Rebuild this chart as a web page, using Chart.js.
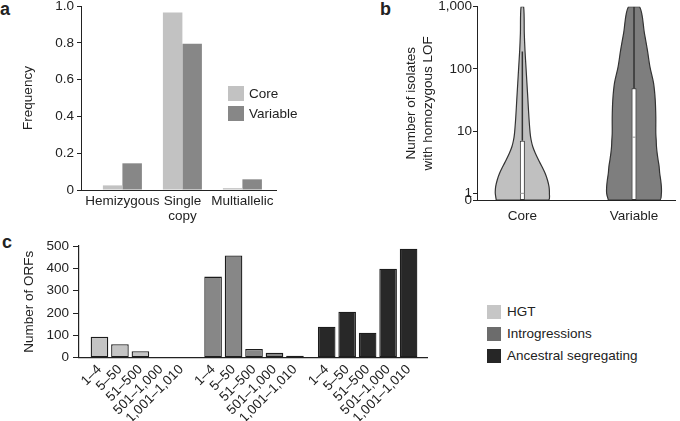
<!DOCTYPE html>
<html>
<head>
<meta charset="utf-8">
<script src="https://cdn.jsdelivr.net/npm/chart.js@4.4.1/dist/chart.umd.min.js"></script>
<style>
  body {
    margin: 0;
    width: 680px;
    height: 421px;
    overflow: hidden;
    position: relative;
    background: #fff;
    color: #222;
    font-family: "Liberation Sans", Arial, sans-serif;
  }
  canvas { position: absolute; }
  .letter { position: absolute; font-weight: bold; font-size: 18px; line-height: 18px; }
  .key { position: absolute; }
  .keytext { position: absolute; font-size: 13.5px; line-height: 16px; white-space: nowrap; }
</style>
</head>
<body>
<div class="letter" style="left:0px;top:0px">a</div>
<div class="letter" style="left:380px;top:0px">b</div>
<div class="letter" style="left:2px;top:233px">c</div>

<canvas id="chartA" width="340" height="240" style="left:0px;top:-10px"></canvas>
<canvas id="chartB" width="290" height="240" style="left:390px;top:-10px"></canvas>
<canvas id="chartC" width="470" height="191" style="left:0px;top:230px"></canvas>

<div id="legendA"></div>
<div id="legendC"></div>

<script>
// panel a
const freqCategories = ["Hemizygous", ["Single", "copy"], "Multiallelic"];
const freqSeries = ["Core", "Variable"];
const coreFreq = [0.025, 0.965, 0.01];
const variableFreq = [0.145, 0.795, 0.058];

// panel b
const violinGroups = ["Core", "Variable"];
const violinLevels = [0, 1, 1.28, 1.64, 2.1, 2.7, 3.4, 4.4, 5.6, 7.2, 9.2, 17, 32, 59, 108, 200, 370, 1000];
const coreDensity = [26.7, 27.7, 27.3, 25.7, 23.3, 20, 16.7, 13.3, 10.7, 9, 8, 6.7, 5.7, 4.7, 3.7, 2.7, 2, 1.3];
const variableDensity = [26.3, 28, 28, 27.3, 26.3, 25.7, 24.7, 23.7, 23, 22.7, 22.3, 22.3, 21.7, 20, 16.3, 13.7, 10.7, 5.7];
const boxLow = [0, 0];
const boxHigh = [7, 49];
const medians = [1, 8];
const whiskerTop = [190, 1000];
const violinTicks = [0, 1, 10, 100, 1000];
const violinTickLabels = ["0", "1", "10", "100", "1,000"];

// panel c
const binLabels = ["1–4", "5–50", "51–500", "501–1,000", "1,001–1,010"];
const orfGroups = ["HGT", "Introgressions", "Ancestral segregating"];
const hgtCounts = [94, 60, 29, 2, 2];
const introgressionCounts = [363, 458, 39, 22, 9];
const ancestralCounts = [139, 206, 112, 398, 488];

const fontFamily = "'Liberation Sans', Arial, sans-serif";
const ink = "#222";

Chart.defaults.font.family = fontFamily;
Chart.defaults.font.size = 13.5;
Chart.defaults.color = ink;
Chart.defaults.animation = false;

const noPlugins = {
  legend: { display: false },
  tooltip: { enabled: false },
};

function addLegend(id, labels, colors, left, top, step, w, h, gap) {
  const holder = document.getElementById(id);

  labels.forEach((label, i) => {
    const y = top + i * step;
    holder.innerHTML +=
      `<div class="key" style="left:${left}px;top:${y}px;width:${w}px;height:${h}px;background:${colors[i]}"></div>` +
      `<div class="keytext" style="left:${left + w + gap}px;top:${y + h / 2 - 8}px">${label}</div>`;
  });
}

// ---------- a ----------
const freqColors = ["#c2c2c2", "#878787"];

new Chart(document.getElementById("chartA"), {
  type: "bar",
  data: {
    datasets: [coreFreq, variableFreq].map((values, s) => ({
      label: freqSeries[s],
      data: values.map((v, i) => ({ x: i, y: v })),
      backgroundColor: freqColors[s],
      categoryPercentage: 0.65,
      barPercentage: 1,
    })),
  },
  options: {
    responsive: false,
    layout: { padding: { top: 16, left: 0, right: 64, bottom: 0 } },
    plugins: noPlugins,
    scales: {
      x: {
        type: "linear",
        offset: false,
        min: -0.69,
        max: 2.56,
        afterBuildTicks: (scale) => {
          scale.ticks = freqCategories.map((c, i) => ({ value: i }));
        },
        ticks: {
          autoSkip: false,
          maxRotation: 0,
          padding: 4,
          font: { lineHeight: 1.12 },
          callback: (v, i) => freqCategories[i],
        },
        grid: { display: false, drawTicks: false },
        border: { color: ink, width: 1 },
        afterFit: (scale) => {
          scale.height = 40;
        },
      },
      y: {
        min: 0,
        max: 1,
        ticks: {
          stepSize: 0.2,
          padding: 3,
          callback: (v) => (v === 0 ? "0" : v.toFixed(1)),
        },
        grid: { drawOnChartArea: false, tickLength: 4, color: ink },
        border: { color: ink, width: 1 },
        title: {
          display: true,
          text: "Frequency",
          padding: { top: 20, bottom: 0 },
        },
        afterFit: (scale) => {
          scale.width = 81;
        },
      },
    },
  },
});

addLegend("legendA", freqSeries, freqColors, 228, 86, 20, 16, 15, 5);

// ---------- b ----------
const zeroLevel = -0.107;
const maxHalfWidth = 0.245;

function logPos(v) {
  return v > 0 ? Math.log10(v) : zeroLevel;
}

function violinOutline(center, density) {
  const peak = Math.max(...coreDensity, ...variableDensity);

  const left = violinLevels.map((v, i) => ({
    x: center - (density[i] / peak) * maxHalfWidth,
    y: logPos(v),
  }));

  const right = violinLevels
    .map((v, i) => ({
      x: center + (density[i] / peak) * maxHalfWidth,
      y: logPos(v),
    }))
    .reverse();

  return left.concat(right, [left[0]]);
}

const violinColors = ["#c0c0c0", "#7e7e7e"];

new Chart(document.getElementById("chartB"), {
  type: "line",
  data: {
    datasets: [
      ...[coreDensity, variableDensity].map((density, g) => ({
        label: violinGroups[g],
        data: violinOutline(g, density),
        backgroundColor: violinColors[g],
        borderColor: "#333",
        borderWidth: 1.2,
        fill: "shape",
        pointRadius: 0,
        tension: 0.3,
        order: 4,
      })),
      {
        type: "bar",
        data: violinGroups.map((g, i) => ({
          x: i,
          y: [logPos(boxHigh[i]), logPos(whiskerTop[i])],
        })),
        backgroundColor: "#333",
        maxBarThickness: 1.5,
        grouped: false,
        order: 3,
      },
      {
        type: "bar",
        data: violinGroups.map((g, i) => ({
          x: i,
          y: [logPos(boxLow[i]), logPos(boxHigh[i])],
        })),
        backgroundColor: "#fff",
        borderColor: "#333",
        borderWidth: 1,
        borderSkipped: false,
        maxBarThickness: 5,
        grouped: false,
        order: 2,
      },
      {
        data: violinGroups.map((g, i) => ({ x: i, y: logPos(medians[i]) })),
        showLine: false,
        pointStyle: "line",
        pointRadius: 2,
        borderColor: "#999",
        borderWidth: 1,
        order: 1,
      },
    ],
  },
  options: {
    responsive: false,
    layout: { padding: { top: 16.7, left: 0, right: 0, bottom: 0 } },
    plugins: noPlugins,
    scales: {
      x: {
        type: "linear",
        offset: false,
        min: -0.406,
        max: 1.367,
        afterBuildTicks: (scale) => {
          scale.ticks = violinGroups.map((g, i) => ({ value: i }));
        },
        ticks: {
          autoSkip: false,
          maxRotation: 0,
          padding: 8,
          callback: (v, i) => violinGroups[i],
        },
        grid: { display: false, drawTicks: false },
        border: { color: ink, width: 1 },
        afterFit: (scale) => {
          scale.height = 30;
        },
      },
      y: {
        type: "linear",
        min: zeroLevel,
        max: 3,
        afterBuildTicks: (scale) => {
          scale.ticks = violinTicks.map((v) => ({ value: logPos(v) }));
        },
        ticks: {
          autoSkip: false,
          padding: 1,
          callback: (v, i) => violinTickLabels[i],
        },
        grid: { drawOnChartArea: false, tickLength: 4, color: ink },
        border: { color: ink, width: 1 },
        title: {
          display: true,
          text: ["Number of isolates", "with homozygous LOF"],
          font: { lineHeight: 1.25 },
          padding: { top: 12.5, bottom: 0 },
        },
        afterFit: (scale) => {
          scale.width = 87;
        },
      },
    },
  },
});

// ---------- c ----------
const orfColors = ["#c4c4c4", "#878787", "#282828"];
const orfKeyColors = ["#c6c6c6", "#6c6c6c", "#262626"];
const groupStride = 5.55;

new Chart(document.getElementById("chartC"), {
  type: "bar",
  data: {
    datasets: [hgtCounts, introgressionCounts, ancestralCounts].map((counts, g) => ({
      label: orfGroups[g],
      data: counts.map((c, i) => ({ x: g * groupStride + i, y: c })),
      backgroundColor: orfColors[g],
      borderColor: "#1c1c1c",
      borderWidth: 1.3,
      borderSkipped: false,
      grouped: false,
      categoryPercentage: 1,
      barPercentage: 0.86,
    })),
  },
  options: {
    responsive: false,
    layout: { padding: { top: 16, left: 0, right: 43, bottom: 0 } },
    plugins: noPlugins,
    scales: {
      x: {
        type: "linear",
        offset: false,
        min: -1,
        max: 16,
        afterBuildTicks: (scale) => {
          const ticks = [];
          orfGroups.forEach((group, g) => {
            binLabels.forEach((b, i) => ticks.push({ value: g * groupStride + i }));
          });
          scale.ticks = ticks;
        },
        ticks: {
          autoSkip: false,
          minRotation: 45,
          maxRotation: 45,
          padding: 4,
          callback: (v, i) => binLabels[i % binLabels.length],
        },
        grid: { display: false, drawTicks: false },
        border: { color: ink, width: 1.2 },
        afterFit: (scale) => {
          scale.height = 63.3;
        },
      },
      y: {
        min: 0,
        max: 500,
        ticks: { stepSize: 100, padding: 4 },
        grid: { drawOnChartArea: false, tickLength: 6, color: ink },
        border: { color: ink, width: 1.2 },
        title: {
          display: true,
          text: "Number of ORFs",
          padding: { top: 21, bottom: 0 },
        },
        afterFit: (scale) => {
          scale.width = 79;
        },
      },
    },
  },
});

addLegend("legendC", orfGroups, orfKeyColors, 487, 305, 22, 14, 14, 6);
</script>
</body>
</html>
